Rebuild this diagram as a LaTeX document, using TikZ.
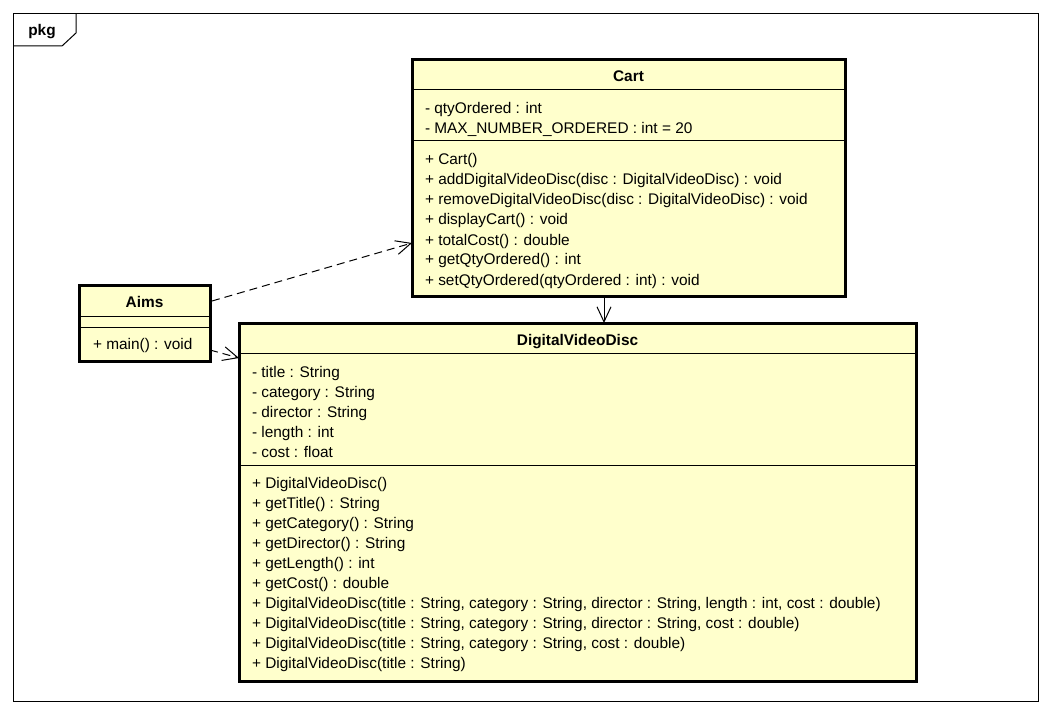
\documentclass[tikz,border=0pt]{standalone}
\usepackage{fontspec}
\setmainfont{Liberation Sans}
\usetikzlibrary{arrows.meta}
\definecolor{classfill}{HTML}{FFFFCC}
\begin{document}
\begin{tikzpicture}[x=1pt,y=-1pt,
  every node/.style={font=\fontsize{15.4}{20}\selectfont, inner sep=0pt, outer sep=0pt},
  classbox/.style={draw=black, line width=3pt, fill=classfill, rectangle},
  sep/.style={line width=1pt},
  title/.style={anchor=base, font=\fontsize{15.4}{20}\selectfont\bfseries},
  member/.style={anchor=base west},
  tip/.style={-{Straight Barb[length=15pt,width=14pt,line width=1pt]}},
  dep/.style={tip, line width=1pt, dash pattern=on 8pt off 5pt},
  assoc/.style={tip, line width=1pt},
]
\useasboundingbox (0,0) rectangle (1052,714);

% package frame with its name tab
\draw[line width=1pt] (13,14) rectangle (1038,701);
\draw[line width=1pt] (13,46) -- (62,46) -- (76,33) -- (76,14);
\node[title] (pkgname) at (42,36) {pkg};

% class boxes
\node[classbox, minimum width=433, minimum height=236] (cart) at (628.5,178) {};
\node[classbox, minimum width=131, minimum height=76] (aims) at (144.5,323) {};
\node[classbox, minimum width=677, minimum height=358] (dvd) at (577.5,502) {};

% compartment separators
\draw[sep] (413,90) -- (844,90);
\draw[sep] (413,141) -- (844,141);
\draw[sep] (80,316) -- (209,316);
\draw[sep] (80,327) -- (209,327);
\draw[sep] (240,353) -- (915,353);
\draw[sep] (240,465) -- (915,465);

% Cart
\node[title] (cartname) at (628.5,82) {Cart};
\foreach \t [count=\i] in {{- qtyOrdered : int}, {- MAX\_NUMBER\_ORDERED : int = 20}}
  \node[member] (cartattr\i) at (425,{94+20*\i}) {\t};
\foreach \t [count=\i] in {{+ Cart()},
    {+ addDigitalVideoDisc(disc : DigitalVideoDisc) : void},
    {+ removeDigitalVideoDisc(disc : DigitalVideoDisc) : void},
    {+ displayCart() : void},
    {+ totalCost() : double},
    {+ getQtyOrdered() : int},
    {+ setQtyOrdered(qtyOrdered : int) : void}}
  \node[member] (cartop\i) at (425,{145+20*\i}) {\t};

% Aims
\node[title] (aimsname) at (144.5,307) {Aims};
\node[member] (aimsop1) at (93,349) {+ main() : void};

% DigitalVideoDisc
\node[title] (dvdname) at (577.5,345) {DigitalVideoDisc};
\foreach \t [count=\i] in {{- title : String}, {- category : String},
    {- director : String}, {- length : int}, {- cost : float}}
  \node[member] (dvdattr\i) at (252,{357+20*\i}) {\t};
\foreach \t [count=\i] in {{+ DigitalVideoDisc()},
    {+ getTitle() : String},
    {+ getCategory() : String},
    {+ getDirector() : String},
    {+ getLength() : int},
    {+ getCost() : double},
    {+ DigitalVideoDisc(title : String, category : String, director : String, length : int, cost : double)},
    {+ DigitalVideoDisc(title : String, category : String, director : String, cost : double)},
    {+ DigitalVideoDisc(title : String, category : String, cost : double)},
    {+ DigitalVideoDisc(title : String)}}
  \node[member] (dvdop\i) at (252,{468+20*\i}) {\t};

% relationships
\draw[dep] ([xshift=2pt,yshift=22pt]aims.east) -- ([yshift=-65pt]cart.west);
\draw[dep] ([yshift=-27pt]aims.east) -- ([yshift=144pt]dvd.west);
\draw[assoc] ([xshift=-24.5pt]cart.south) -- ([xshift=26.5pt]dvd.north);
\end{tikzpicture}
\end{document}
